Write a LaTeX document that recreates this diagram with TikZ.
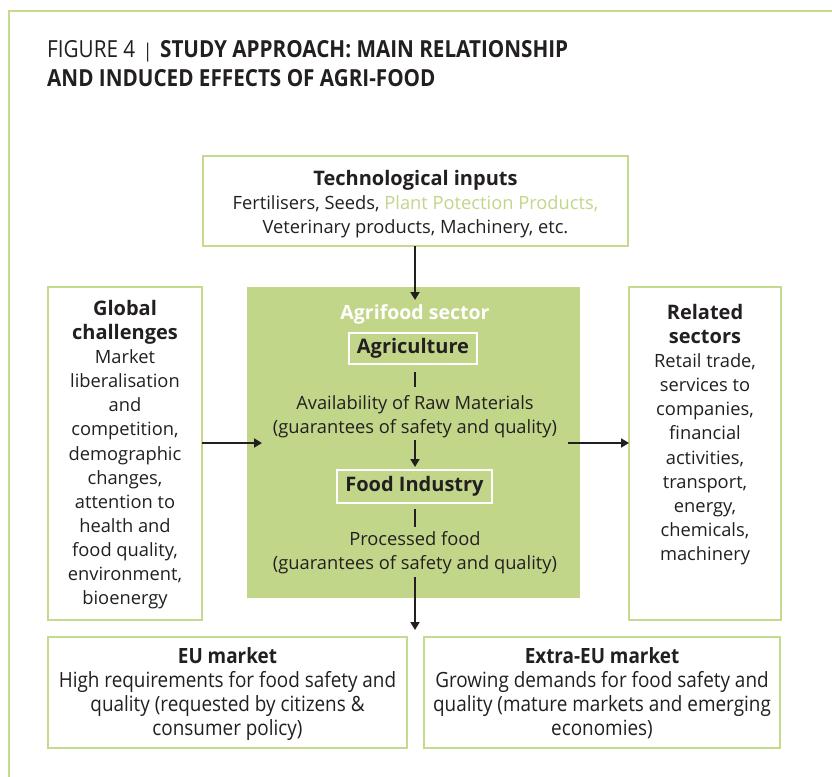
\documentclass[tikz,border=0pt]{standalone}
\usepackage{fontspec}
\setmainfont{Open Sans}
\newfontfamily\condfont[FakeStretch=0.88]{Open Sans}
\newfontfamily\condfontb[FakeStretch=0.9]{Open Sans}
\usetikzlibrary{arrows.meta}
\definecolor{agri}{HTML}{C2D68A}
\definecolor{frameg}{HTML}{C4DA8E}
\definecolor{txt}{HTML}{231F20}
\begin{document}
\begin{tikzpicture}[x=1pt,y=-1pt,
  box/.style={draw=frameg,line width=2.6pt,fill=white,inner sep=0pt,outer sep=0pt},
  inbox/.style={draw=white,line width=2pt,inner sep=0pt,outer sep=0pt,text=txt,font=\fontsize{20}{22}\selectfont\bfseries},
  body/.style={text=txt,align=center,inner sep=0pt,font=\fontsize{18.3}{24.1}\selectfont},
  cbody/.style={text=txt,align=center,inner sep=0pt,font=\condfontb\fontsize{21}{24}\selectfont},
  arr/.style={draw=txt,line width=1.8pt,-{Triangle[length=8pt,width=9pt]}},
  ln/.style={draw=txt,line width=1.8pt}]
\useasboundingbox (0,0) rectangle (832,776);
\fill[white] (0,0) rectangle (832,776);
% outer frame
\draw[frameg,line width=2.6pt] (9,780) -- (9,11) -- (836,11);
% title
\node[anchor=base west,inner sep=0pt,text=txt,font=\condfont\fontsize{23.5}{24}\selectfont] (t1) at (47,57)
  {FIGURE 4\,\,{\fontsize{19}{20}\selectfont|}\,\,\bfseries STUDY APPROACH: MAIN RELATIONSHIP};
\node[anchor=base west,inner sep=0pt,text=txt,font=\condfont\fontsize{23.5}{24}\selectfont\bfseries] (t2) at (47,86)
  {AND INDUCED EFFECTS OF AGRI-FOOD};
% boxes
\node[box,minimum width=425pt,minimum height=90pt] (tech) at (415.5,201) {};
\node[fill=agri,inner sep=0pt,minimum width=333pt,minimum height=311pt] (agri) at (413.5,442.5) {};
\node[box,minimum width=154pt,minimum height=333pt] (glob) at (125,453.5) {};
\node[box,minimum width=152pt,minimum height=333pt] (rel) at (705,453.5) {};
\node[box,minimum width=359pt,minimum height=111pt] (eu) at (227.5,692.5) {};
\node[box,minimum width=356pt,minimum height=111pt] (ext) at (602,692.5) {};
% texts
\node[body,anchor=north] (techtx) at (415.5,170)
  {{\fontsize{20}{24.1}\selectfont\bfseries Technological inputs}\\
   Fertilisers, Seeds, \textcolor{agri}{Plant Potection Products,}\\
   Veterinary products, Machinery, etc.};
\node[body,anchor=north] (globtx) at (125,300)
  {{\fontsize{20}{24.1}\selectfont\bfseries Global}\\{\fontsize{20}{24.1}\selectfont\bfseries challenges}\\
   Market\\liberalisation\\and\\competition,\\demographic\\changes,\\attention to\\health and\\food quality,\\environment,\\bioenergy};
\node[body,anchor=north] (reltx) at (705,304)
  {{\fontsize{20}{24.1}\selectfont\bfseries Related}\\{\fontsize{20}{24.1}\selectfont\bfseries sectors}\\
   Retail trade,\\services to\\companies,\\financial\\activities,\\transport,\\energy,\\chemicals,\\machinery};
\node[cbody,anchor=north] (eutx) at (227.5,647)
  {\textbf{EU market}\\High requirements for food safety and\\quality (requested by citizens \&\\consumer policy)};
\node[cbody,anchor=north] (exttx) at (602,647)
  {\textbf{Extra-EU market}\\Growing demands for food safety and\\quality (mature markets and emerging\\economies)};
% inside agrifood
\node[text=white,inner sep=0pt,font=\fontsize{19.5}{20}\selectfont\bfseries] (agrilab) at (415,314) {Agrifood sector};
\node[inbox,minimum width=128pt,minimum height=31pt] (agric) at (413,348.5) {Agriculture};
\node[body] (raw) at (415,417) {Availability of Raw Materials\\(guarantees of safety and quality)};
\node[inbox,minimum width=155pt,minimum height=33pt] (food) at (414.5,486.5) {Food Industry};
\node[body] (proc) at (415,553) {Processed food\\(guarantees of safety and quality)};
% connectors
\coordinate (c1) at (415,300);
\coordinate (c2a) at (415,372); \coordinate (c2b) at (415,387);
\coordinate (c3a) at (415,440); \coordinate (c3b) at (415,467);
\coordinate (c4a) at (415,509); \coordinate (c4b) at (415,527);
\coordinate (c5a) at (415,577); \coordinate (c5b) at (415,630);
\coordinate (cl) at (262,443);
\coordinate (cr) at (568,443);
\draw[arr] (tech.south -| c1) -- (c1);
\draw[ln] (c2a) -- (c2b);
\draw[arr] (c3a) -- (c3b);
\draw[ln] (c4a) -- (c4b);
\draw[arr] (c5a) -- (c5b);
\draw[arr] (glob.east |- cl) -- (cl);
\draw[arr] (cr) -- (rel.west |- cr);
\end{tikzpicture}
\end{document}
